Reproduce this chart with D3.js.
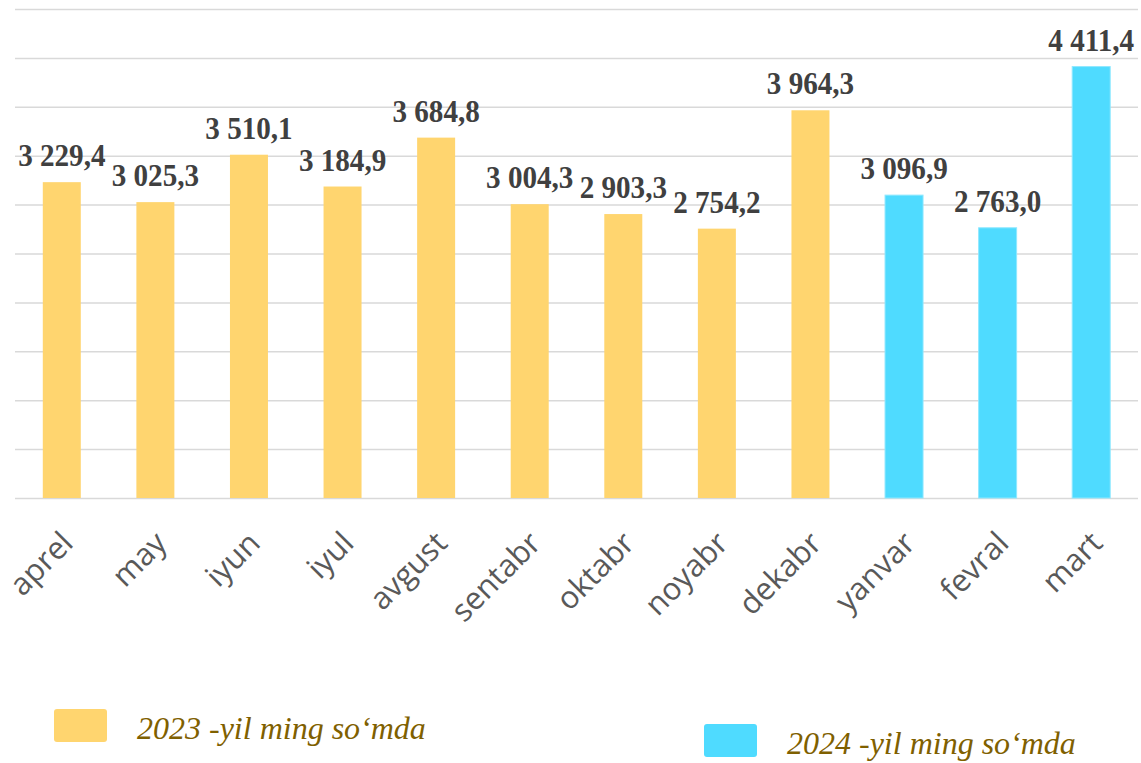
<!DOCTYPE html>
<html>
<head>
<meta charset="utf-8">
<script src="https://cdn.jsdelivr.net/npm/d3@7"></script>
<style>
  body { margin: 0; background: #fff; }
  svg { display: block; }
</style>
</head>
<body>
<script>
// chart data
let months = ['aprel', 'may', 'iyun', 'iyul', 'avgust', 'sentabr', 'oktabr', 'noyabr', 'dekabr', 'yanvar', 'fevral', 'mart'];
let values = [3229.4, 3025.3, 3510.1, 3184.9, 3684.8, 3004.3, 2903.3, 2754.2, 3964.3, 3096.9, 2763.0, 4411.4];
let years = [2023, 2023, 2023, 2023, 2023, 2023, 2023, 2023, 2023, 2024, 2024, 2024];
let legendLabels = ['2023 -yil ming so\u2018mda', '2024 -yil ming so\u2018mda'];
let yTicks = d3.range(0, 5001, 500);

let width = 1141;
let height = 763;

let colors = { 2023: '#FFD56F', 2024: '#4FDBFF' };

let svg = d3.select('body').append('svg')
    .attr('width', width)
    .attr('height', height);

// scales
let x = d3.scaleBand()
    .domain(months)
    .range([15, 1138])
    .paddingInner(0.594)
    .paddingOuter(0.297);

let y = d3.scaleLinear()
    .domain([0, 5000])
    .range([498, 9]);

// gridlines
let grid = svg.append('g')
    .attr('transform', 'translate(15,0)')
    .call(d3.axisLeft(y).tickValues(yTicks).tickSize(-(1138 - 15)).tickFormat(''));
grid.select('.domain').remove();
grid.selectAll('line')
    .attr('stroke', '#d9d9d9')
    .attr('stroke-width', 1.5);

// bars
svg.selectAll('.bar')
    .data(months)
    .enter().append('rect')
    .attr('class', 'bar')
    .attr('x', d => x(d))
    .attr('y', (d, i) => y(values[i]))
    .attr('width', x.bandwidth())
    .attr('height', (d, i) => y(0) - y(values[i]))
    .attr('fill', (d, i) => colors[years[i]])
    .attr('stroke', (d, i) => years[i] == 2024 ? '#8fe8ff' : 'none')
    .attr('stroke-width', 1);

// value labels: "3 229,4" style
let fmt = v => {
    let parts = v.toFixed(1).split('.');
    let intPart = parts[0].replace(/\B(?=(\d{3})+(?!\d))/g, ' ');
    return intPart + ',' + parts[1];
};

svg.selectAll('.val')
    .data(months)
    .enter().append('text')
    .attr('class', 'val')
    .attr('transform', (d, i) => 'translate(' + (x(d) + x.bandwidth() / 2) + ',' + (y(values[i]) - 16) + ') scale(0.91,1)')
    .attr('text-anchor', 'middle')
    .attr('font-family', '"Liberation Serif", "Times New Roman", serif')
    .attr('font-weight', 'bold')
    .attr('font-size', 32)
    .attr('fill', '#404040')
    .text((d, i) => fmt(values[i]));

// category labels, rotated
svg.selectAll('.cat')
    .data(months)
    .enter().append('text')
    .attr('class', 'cat')
    .attr('transform', d => 'translate(' + (x(d) + x.bandwidth() / 2 + 13) + ',545) rotate(-45)')
    .attr('text-anchor', 'end')
    .attr('font-family', '"Open Sans", "Noto Sans", sans-serif')
    .attr('font-size', 31)
    .attr('fill', '#595959')
    .text(d => d);

// legend
let legendPos = [
    { sx: 54, sy: 709, tx: 137, ty: 739 },
    { sx: 704, sy: 724, tx: 787, ty: 754 }
];

let legend = svg.selectAll('.legend')
    .data(legendLabels)
    .enter().append('g')
    .attr('class', 'legend');

legend.append('rect')
    .attr('x', (d, i) => legendPos[i].sx)
    .attr('y', (d, i) => legendPos[i].sy)
    .attr('width', 53)
    .attr('height', 33)
    .attr('rx', 3)
    .attr('fill', (d, i) => i == 0 ? colors[2023] : colors[2024]);

legend.append('text')
    .attr('x', (d, i) => legendPos[i].tx)
    .attr('y', (d, i) => legendPos[i].ty)
    .attr('font-family', '"Liberation Serif", "Times New Roman", serif')
    .attr('font-style', 'italic')
    .attr('font-size', 32)
    .attr('fill', '#7F6000')
    .text(d => d);
</script>
</body>
</html>
